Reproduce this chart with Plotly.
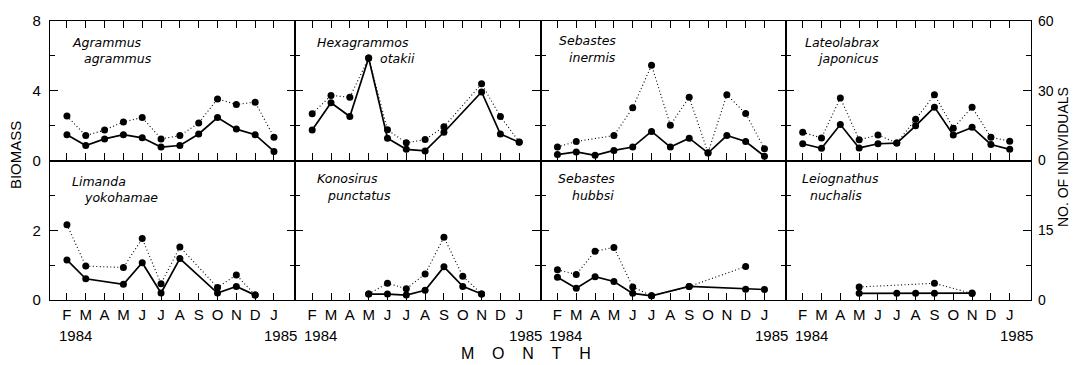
import plotly.graph_objects as go

# ---------------- data ----------------
month_pos = list(range(1, 13))
month_labels = ["F", "M", "A", "M", "J", "J", "A", "S", "O", "N", "D", "J"]

species = [
    ("Agrammus", "agrammus"),
    ("Hexagrammos", "otakii"),
    ("Sebastes", "inermis"),
    ("Lateolabrax", "japonicus"),
    ("Limanda", "yokohamae"),
    ("Konosirus", "punctatus"),
    ("Sebastes", "hubbsi"),
    ("Leiognathus", "nuchalis"),
]

# biomass (solid line, left axis)
agr_bio = [1.48, 0.86, 1.24, 1.48, 1.30, 0.77, 0.86, 1.52, 2.46, 1.80, 1.48, 0.52]
hex_bio = [1.75, 3.31, 2.52, 5.88, 1.28, 0.64, 0.55, 1.62, None, 3.93, 1.52, 1.05]
ine_bio = [0.34, 0.49, 0.30, 0.58, 0.77, 1.67, 0.77, 1.28, 0.43, 1.43, 1.09, 0.24]
lat_bio = [0.96, 0.70, 2.06, 0.72, 0.96, 1.00, 1.99, 3.06, 1.46, 1.90, 0.92, 0.64]
lim_bio = [1.15, 0.61, None, 0.45, 1.07, 0.20, 1.19, None, 0.20, 0.39, 0.14, None]
kon_bio = [None, None, None, 0.17, 0.17, 0.14, 0.28, 0.95, 0.39, 0.17, None, None]
hub_bio = [0.65, 0.34, 0.67, 0.53, 0.19, 0.12, None, 0.39, None, None, 0.31, 0.30]
lei_bio = [None, None, None, 0.19, None, 0.19, 0.19, 0.19, None, 0.20, None, None]

# number of individuals (dotted line, right axis)
agr_ind = [19.1, 10.7, 13.1, 16.6, 18.5, 9.3, 10.7, 16.1, 26.5, 24.1, 25.1, 10.0]
hex_ind = [20.1, 28.0, 27.2, 44.1, 13.2, 7.6, 9.0, 14.5, None, 33.0, 18.9, 8.0]
ine_ind = [5.8, 8.2, None, 10.7, 22.7, 41.0, 15.2, 27.2, 3.3, 28.3, 20.2, 5.1]
lat_ind = [12.1, 9.7, 26.9, 8.9, 11.0, 7.5, 17.7, 28.3, 13.9, 22.9, 10.0, 8.3]
lim_ind = [16.2, 7.3, None, 7.0, 13.2, 3.5, 11.4, None, 2.7, 5.4, 1.05, None]
kon_ind = [None, None, None, 1.3, 3.6, 2.4, 5.6, 13.5, 5.1, 1.3, None, None]
hub_ind = [6.5, 5.5, 10.5, 11.3, 2.8, 0.9, None, 2.9, None, None, 7.2, None]
lei_ind = [None, None, None, 2.8, None, None, None, 3.6, None, 1.4, None, None]

bio_series = [agr_bio, hex_bio, ine_bio, lat_bio, lim_bio, kon_bio, hub_bio, lei_bio]
ind_series = [agr_ind, hex_ind, ine_ind, lat_ind, lim_ind, kon_ind, hub_ind, lei_ind]

bio_range = [[0, 8], [0, 4]]
bio_ticks = [[0, 4, 8], [0, 2]]
bio_minor = [[2, 6], [1, 3]]
ind_range = [[0, 60], [0, 30]]
ind_ticks = [[0, 30, 60], [0, 15]]
ind_minor = [[15, 45], [7.5, 22.5]]

year_start, year_end = "1984", "1985"

# species label positions (px: line1 x, y ; line2 x, y)
label_px = [
    (70, 37, 82, 53), (315, 37, 378, 53), (557, 35, 567, 52), (803, 37, 815, 53),
    (70, 179, 82, 195), (315, 176, 325, 193), (556, 176, 570, 193), (800, 176, 808, 193),
]

# ---------------- figure ----------------
W, H = 1079, 365
ML, MR, MT, MB = 50, 48, 15, 65
PW = (W - ML - MR) / 4
PH = (H - MT - MB) / 2

fig = go.Figure()
layout = {}
annotations = []
FONT = "Liberation Sans, Arial, sans-serif"
LW = 1.4


def aid(letter, n):
    return letter if n == 1 else f"{letter}{n}"


for p in range(8):
    r, c = divmod(p, 4)
    xa = aid("x", p + 1)
    ya = aid("y", p + 1)
    ya2 = aid("y", p + 9)
    xkey = "xaxis" if p == 0 else f"xaxis{p + 1}"
    ykey = "yaxis" if p == 0 else f"yaxis{p + 1}"
    y2key = f"yaxis{p + 9}"
    xd = [c / 4, (c + 1) / 4]
    yd = [0.5, 1.0] if r == 0 else [0.0, 0.5]

    fig.add_trace(go.Scatter(
        x=month_pos, y=ind_series[p], xaxis=xa, yaxis=ya2, mode="lines+markers",
        connectgaps=True, line=dict(color="black", width=1.1, dash="1px,2.5px"),
        marker=dict(color="black", size=7), showlegend=False, hoverinfo="skip"))
    fig.add_trace(go.Scatter(
        x=month_pos, y=bio_series[p], xaxis=xa, yaxis=ya, mode="lines+markers",
        connectgaps=True, line=dict(color="black", width=1.7),
        marker=dict(color="black", size=7), showlegend=False, hoverinfo="skip"))

    layout[xkey] = dict(
        domain=xd, anchor=ya, range=[0.1, 13.13], tickmode="array",
        tickvals=month_pos, ticktext=month_labels,
        showticklabels=(r == 1), ticks="inside", ticklen=7, tickwidth=1.3,
        tickcolor="black", showline=True, linecolor="black", linewidth=LW,
        mirror="ticks" if r == 0 else True, showgrid=False, zeroline=False,
        tickfont=dict(family=FONT, size=15, color="black"), ticklabelstandoff=1,
        fixedrange=True)
    layout[ykey] = dict(
        domain=yd, anchor=xa, range=bio_range[r], tickmode="array",
        tickvals=bio_ticks[r], showticklabels=(c == 0), ticks="inside",
        ticklen=8, tickwidth=1.3, tickcolor="black", showline=True,
        linecolor="black", linewidth=LW, showgrid=False, zeroline=False,
        minor=dict(tickmode="array", tickvals=bio_minor[r], ticks="inside",
                   ticklen=5, tickwidth=1.2, tickcolor="black", showgrid=False),
        tickfont=dict(family=FONT, size=15, color="black"), ticklabelstandoff=5,
        fixedrange=True)
    layout[y2key] = dict(
        overlaying=ya, anchor=xa, side="right", range=ind_range[r],
        tickmode="array", tickvals=ind_ticks[r], showticklabels=(c == 3),
        ticks="inside", ticklen=8, tickwidth=1.3, tickcolor="black",
        showline=True, linecolor="black", linewidth=LW, showgrid=False,
        zeroline=False,
        minor=dict(tickmode="array", tickvals=ind_minor[r], ticks="inside",
                   ticklen=5, tickwidth=1.2, tickcolor="black", showgrid=False),
        tickfont=dict(family=FONT, size=14, color="black"), ticklabelstandoff=3,
        fixedrange=True)

    # species labels
    x1, y1, x2, y2 = label_px[p]
    left = ML + c * PW
    top = MT + r * PH
    for (tx, ty, txt) in [(x1, y1, species[p][0]), (x2, y2, species[p][1])]:
        annotations.append(dict(
            xref=f"{xa} domain", yref=f"{ya} domain",
            x=(tx - left) / PW, y=1 - (ty - top) / PH,
            xanchor="left", yanchor="middle", showarrow=False,
            text=f"<i>{txt}</i>",
            font=dict(family="DejaVu Sans, sans-serif", size=12.5, color="black")))

    # year labels under bottom panels
    if r == 1:
        for xv, yt in [(1.45, year_start), (12.35, year_end)]:
            annotations.append(dict(
                xref=xa, yref="paper", x=xv, y=(300 - 336) / (H - MT - MB),
                xanchor="center", yanchor="middle", showarrow=False, text=yt,
                font=dict(family=FONT, size=15, color="black")))

PWH = H - MT - MB
PWW = W - ML - MR
annotations.append(dict(
    xref="paper", yref="paper", x=(15 - ML) / PWW, y=(300 - 152) / PWH,
    text="BIOMASS", textangle=-90, showarrow=False, xanchor="center",
    yanchor="middle", font=dict(family=FONT, size=15, color="black")))
annotations.append(dict(
    xref="paper", yref="paper", x=(1063 - ML) / PWW, y=(300 - 154) / PWH,
    text="NO. OF INDIVIDUALS", textangle=-90, showarrow=False,
    xanchor="center", yanchor="middle",
    font=dict(family=FONT, size=14, color="black")))
sp = "\u00a0" * 4
annotations.append(dict(
    xref="paper", yref="paper", x=(526 - ML) / PWW, y=(300 - 355) / PWH,
    text=sp.join(list("MONTH")), showarrow=False, xanchor="center",
    yanchor="middle", font=dict(family=FONT, size=16, color="black")))

fig.update_layout(
    width=W, height=H, margin=dict(l=ML, r=MR, t=MT, b=MB),
    paper_bgcolor="white", plot_bgcolor="white", showlegend=False,
    annotations=annotations, **layout)

fig.write_html("out.html")
